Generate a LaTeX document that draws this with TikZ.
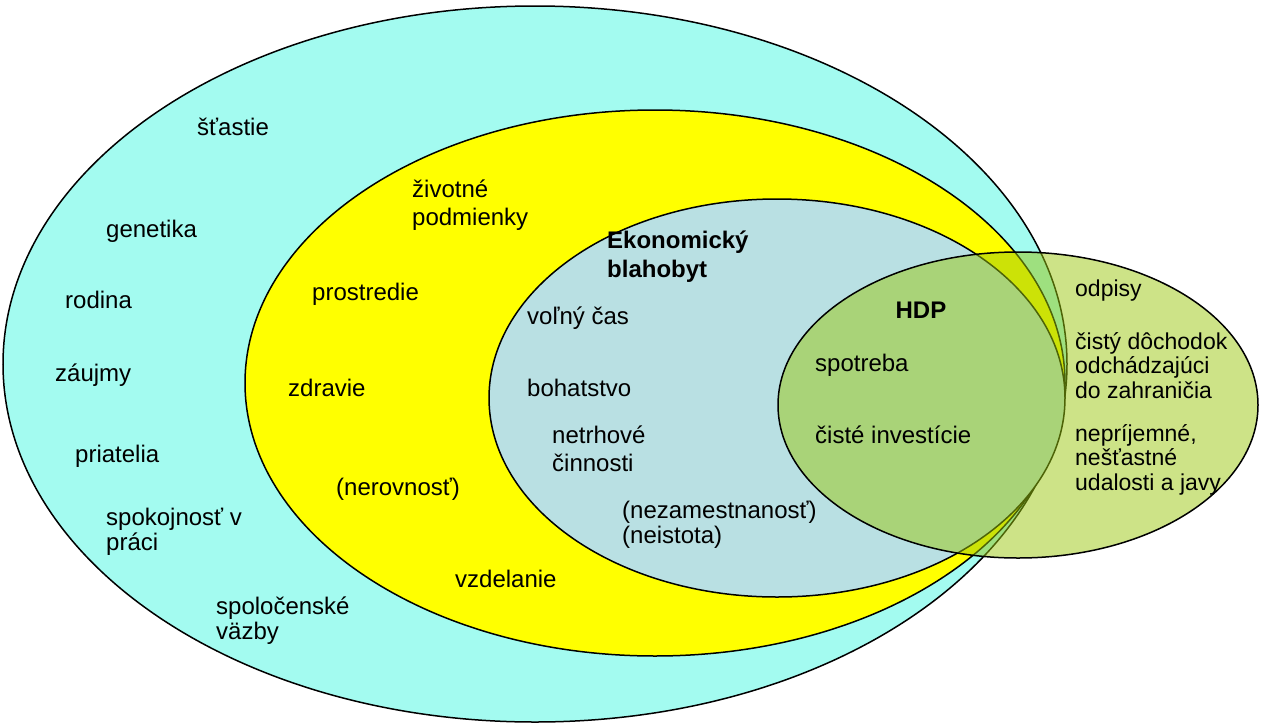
\documentclass[tikz,border=0pt]{standalone}
\usepackage{fontspec}
\setmainfont{Liberation Sans}
\definecolor{wellbeing}{RGB}{163,251,240}
\definecolor{living}{RGB}{255,255,0}
\definecolor{economic}{RGB}{185,224,227}
\definecolor{gdp}{RGB}{155,199,15}
\begin{document}
\begin{tikzpicture}[x=1pt,y=-1pt,
  ring/.style={draw=black, line width=1.5pt},
  % multi-line labels sit on the baseline of their last line
  lbl/.style={anchor=base west, inner sep=0pt, align=left,
    font=\fontsize{24}{25}\selectfont},
  wide/.style={font=\fontsize{24}{28}\selectfont},
  head/.style={font=\fontsize{24}{29}\selectfont\bfseries},
  narrow/.style={font=\fontsize{23}{24.5}\selectfont}]
\useasboundingbox (0,0) rectangle (1262,726);

% nested circles of well-being
\draw[ring, fill=wellbeing] (535,364) ellipse [x radius=532, y radius=358];
\draw[ring, fill=living]    (655,383) ellipse [x radius=410, y radius=273];
\draw[ring, fill=economic]  (777,398) ellipse [x radius=288, y radius=199];
% GDP, partly outside the others
\draw[ring, fill=gdp, fill opacity=0.5] (1018,405) ellipse [x radius=240, y radius=153];

% outer ring
\node[lbl] (stastie)   at (197,135) {šťastie};
\node[lbl] (genetika)  at (106,237) {genetika};
\node[lbl] (rodina)    at (65,308)  {rodina};
\node[lbl] (zaujmy)    at (55,381)  {záujmy};
\node[lbl] (priatelia) at (75,462)  {priatelia};
\node[lbl] (praca)     at (106,550) {spokojnosť v\\práci};
\node[lbl] (vazby)     at (216,639) {spoločenské\\väzby};

% yellow ring
\node[lbl, wide] (podmienky) at (412,225) {životné\\podmienky};
\node[lbl] (prostredie) at (312,300) {prostredie};
\node[lbl] (zdravie)    at (288,396) {zdravie};
\node[lbl] (nerovnost)  at (336,495) {(nerovnosť)};
\node[lbl] (vzdelanie)  at (455,587) {vzdelanie};

% economic well-being
\node[lbl, head] (ekon) at (607,277) {Ekonomický\\blahobyt};
\node[lbl] (volny)     at (527,324) {voľný čas};
\node[lbl] (bohatstvo) at (527,396) {bohatstvo};
\node[lbl, wide] (netrhove) at (552,471) {netrhové\\činnosti};
\node[lbl] (neistota)  at (622,543) {(nezamestnanosť)\\(neistota)};

% GDP
\node[anchor=base, inner sep=0pt, font=\fontsize{24}{25}\selectfont\bfseries] (hdp) at (921,318) {HDP};
\node[lbl] (spotreba)   at (815,371) {spotreba};
\node[lbl] (investicie) at (815,443) {čisté investície};
\node[lbl, narrow] (odpisy)   at (1075,296) {odpisy};
\node[lbl, narrow] (dochodok) at (1075,398) {čistý dôchodok\\odchádzajúci\\do zahraničia};
\node[lbl, narrow] (udalosti) at (1075,490) {nepríjemné,\\nešťastné\\udalosti a javy};
\end{tikzpicture}
\end{document}
